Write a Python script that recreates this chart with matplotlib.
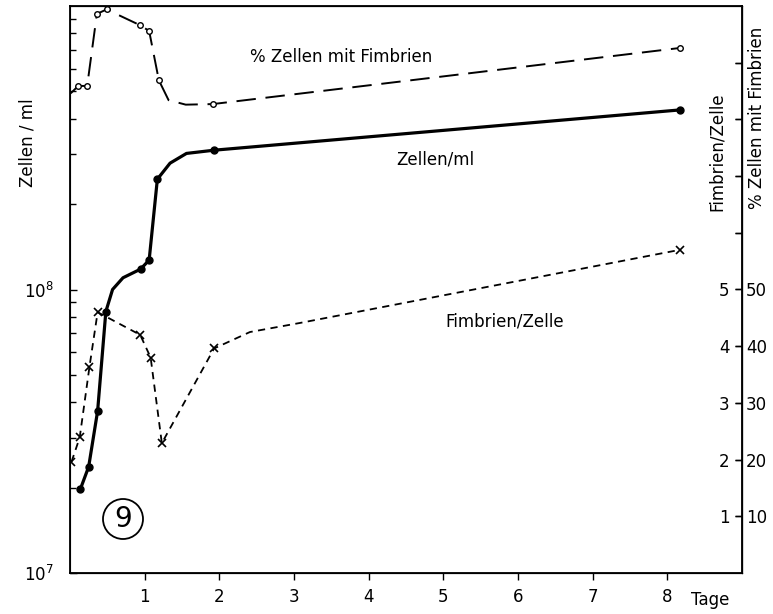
import matplotlib
matplotlib.use("Agg")
import matplotlib.pyplot as plt
from matplotlib.patches import Ellipse
from matplotlib.ticker import FixedLocator, NullFormatter

plt.rcParams['font.family'] = ['DejaVu Sans']

# Zellen/ml (left, log scale); mark = measured point drawn with a dot
days_cells = [0.14, 0.25, 0.37, 0.48, 0.57, 0.71, 0.945, 1.06, 1.17, 1.34, 1.56, 1.93, 8.17]
cells = [1.98e7, 2.37e7, 3.73e7, 8.36e7, 1.0e8, 1.1e8, 1.18e8, 1.27e8, 2.45e8, 2.79e8, 3.02e8, 3.10e8, 4.30e8]
cells_mark = [1, 1, 1, 1, 0, 0, 1, 1, 1, 0, 0, 1, 1]

# Fimbrien/Zelle (right, inner scale 0-10)
days_fimb = [0.02, 0.13, 0.26, 0.37, 0.94, 1.08, 1.23, 1.93, 2.41, 3.08, 8.17]
fimb = [1.96, 2.39, 3.63, 4.60, 4.20, 3.80, 2.29, 3.96, 4.25, 4.41, 5.70]
fimb_mark = [1, 1, 1, 1, 1, 1, 1, 1, 0, 0, 1]

# % Zellen mit Fimbrien (right, outer scale 0-100)
days_pct = [0.01, 0.11, 0.23, 0.36, 0.49, 0.94, 1.06, 1.19, 1.32, 1.55, 1.91, 8.17]
pct = [84.6, 85.9, 85.9, 98.6, 99.4, 96.6, 95.6, 86.9, 83.4, 82.6, 82.7, 92.6]
pct_mark = [0, 1, 1, 1, 1, 1, 1, 1, 0, 0, 1, 1]

day_ticks = [1, 2, 3, 4, 5, 6, 7, 8]
fimb_ticks = [1, 2, 3, 4, 5, 6, 7, 8, 9]
fimb_labels = ['1', '2', '3', '4', '5', '', '', '', '']
pct_ticks = [10, 20, 30, 40, 50, 60, 70, 80, 90]
pct_labels = ['10', '20', '30', '40', '50', '', '', '', '']

W, H = 773, 614


def px(x, y):
    # figure pixel -> figure fraction
    return x / W, 1 - y / H


def marked(flags):
    return [i for i, f in enumerate(flags) if f]


fig = plt.figure(figsize=(W / 100, H / 100), dpi=100)
ax = fig.add_axes([70 / W, 1 - 573 / H, (742 - 70) / W, (573 - 6) / H])

ax.set_xlim(0, 9)
ax.set_yscale('log')
ax.set_ylim(1e7, 1e9)
ax.set_xticks(day_ticks)
ax.set_xticklabels([str(d) for d in day_ticks])
ax.tick_params(axis='x', direction='out', length=5, width=1, labelsize=12, pad=6)
ax.yaxis.set_major_locator(FixedLocator([1e7, 1e8]))
ax.tick_params(axis='y', which='both', direction='in', length=5, width=1,
               labelsize=12, pad=12, right=False)
ax.tick_params(axis='y', which='minor', length=4)
ax.yaxis.set_minor_formatter(NullFormatter())
for s in ax.spines.values():
    s.set_linewidth(1.3)

ax.plot(days_cells, cells, color='black', lw=2.3, marker='o', ms=5,
        mfc='black', mec='black', markevery=marked(cells_mark), zorder=3)

# inner right scale: Fimbrien/Zelle, labels left of the right spine
axf = ax.twinx()
axf.set_ylim(0, 10)
axf.spines['left'].set_position(('axes', 1.0))
axf.yaxis.set_ticks_position('left')
axf.set_yticks(fimb_ticks)
axf.set_yticklabels(fimb_labels)
axf.tick_params(axis='y', direction='out', length=5, width=1, labelsize=12, pad=4)
axf.plot(days_fimb, fimb, color='black', lw=1.3, ls=(0, (4, 3)), marker='x',
         ms=6, mew=1.2, markevery=marked(fimb_mark))

# outer right scale: % Zellen mit Fimbrien
axp = ax.twinx()
axp.set_ylim(0, 100)
axp.set_yticks(pct_ticks)
axp.set_yticklabels(pct_labels)
axp.tick_params(axis='y', direction='in', length=5, width=1, labelsize=12, pad=3)
axp.plot(days_pct, pct, color='black', lw=1.4, ls=(0, (10, 5)), marker='o',
         ms=4, mfc='white', mec='black', mew=1.0, markevery=marked(pct_mark))

# texts
fig.text(*px(27, 143), 'Zellen / ml', rotation=90, ha='center', va='center', fontsize=12)
fig.text(*px(717, 152), 'Fimbrien/Zelle', rotation=90, ha='center', va='center', fontsize=12)
fig.text(*px(757, 118), '% Zellen mit Fimbrien', rotation=90, ha='center', va='center', fontsize=12)
fig.text(*px(341, 57), '% Zellen mit Fimbrien', ha='center', va='center', fontsize=12)
fig.text(*px(435, 160), 'Zellen/ml', ha='center', va='center', fontsize=12)
fig.text(*px(505, 322), 'Fimbrien/Zelle', ha='center', va='center', fontsize=12)
fig.text(*px(710, 600), 'Tage', ha='center', va='center', fontsize=12)

# circled figure number
cx, cy = px(123, 519)
fig.patches.append(Ellipse((cx, cy), 40 / W, 40 / H, transform=fig.transFigure,
                           fill=False, edgecolor='black', lw=1.3))
fig.text(cx, cy, '9', ha='center', va='center', fontsize=20)

fig.savefig('out.png', dpi=100)
